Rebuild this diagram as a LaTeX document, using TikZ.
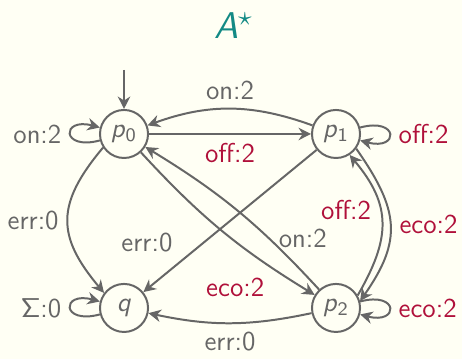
\documentclass[tikz,border=0pt]{standalone}
\usepackage{amsmath,amssymb}
\usepackage{tikz}
\usetikzlibrary{arrows.meta,positioning,backgrounds}
\usepackage{xcolor}
\definecolor{stgray}{HTML}{666666}
\definecolor{stred}{HTML}{B0103A}
\definecolor{sttitle}{HTML}{138A85}
\definecolor{stback}{HTML}{FFFFF4}
\newcommand{\stname}[2]{\textit{#1}\textsubscript{#2}}
\newcommand{\stfont}{\fontsize{11}{13}\selectfont\sffamily}

\begin{document}
\begin{tikzpicture}[
        state/.style={circle, draw=stgray, text=stgray, inner sep=0pt, minimum size=0.68cm},
        every node/.style={font=\stfont, text=stgray},
        red lbl/.style={text=stred},
        every loop/.style={looseness=8, min distance=5mm},
        ->, >={Stealth[length=5pt,width=5pt]}, thick, draw=stgray
      ]
      \useasboundingbox[fill=stback] (-1.755,-0.722) rectangle (4.783,4.358);
      \node[text=sttitle, font=\fontsize{15}{18}\selectfont\sffamily] (title) at (1.55,4.0) {\textit{A}$^\star$};
      \node[state] (p0) at (0,2.462) {\stname{p}{0}};
      \node[state] (p1) at (3,2.462) {\stname{p}{1}};
      \node[state] (q)  at (0,0)     {\textit{q}};
      \node[state] (p2) at (3,0)     {\stname{p}{2}};
      \coordinate (start) at (0,3.368);
      \draw (start) -- (p0);
      \draw (p0) edge[loop left] node[left] {on:2} (p0);
      \draw (p1) to[bend right=20] node[above] {on:2} (p0);
      \draw (p0) -- node[below, red lbl] {off:2} (p1);
      \draw (p1) edge[loop right] node[right, red lbl] {off:2} (p1);
      \draw (p0.-147) to[out=-130, in=130, looseness=1.3] node[left] {err:0} (q.143);
      \draw (p1) -- node[pos=0.65, left=9pt] {err:0} (q);
      \draw (p0) to[bend right=8] node[pos=0.8, below left=0pt, red lbl] {eco:2} (p2);
      \draw (p2) to[bend right=8] node[pos=0.3, right=0pt] {on:2} (p0);
      \draw (p2.30) to[out=60, in=-50, looseness=1.2] node[pos=0.6, left, red lbl] {off:2} (p1.-57);
      \draw (p1.-36) to[out=-55, in=55, looseness=1.25] node[right, red lbl] {eco:2} (p2.16);
      \draw (p2) edge[loop right] node[right, red lbl] {eco:2} (p2);
      \draw (q) edge[loop left] node[left] {$\mathsf{\Sigma}$:0} (q);
      \draw (p2) to[bend left=12] node[below] {err:0} (q);
    \end{tikzpicture}
\end{document}
